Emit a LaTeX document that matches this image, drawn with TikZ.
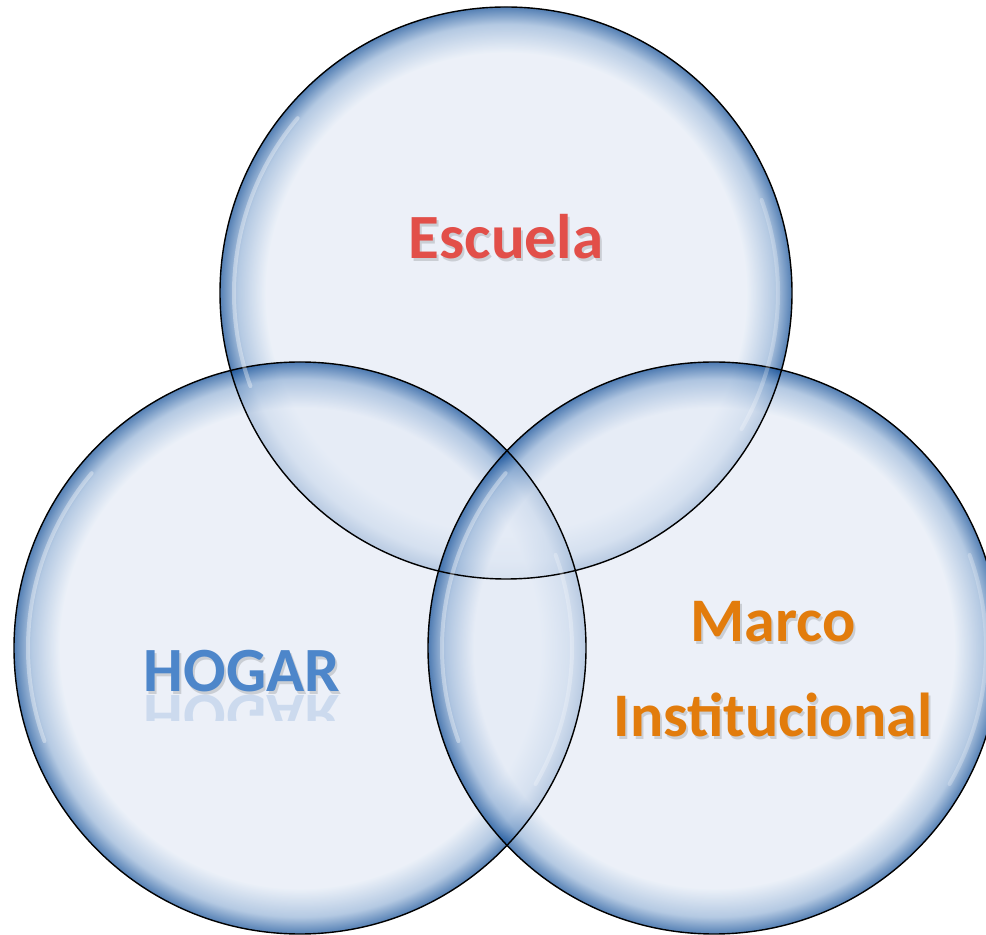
\documentclass[tikz,border=0pt]{standalone}
\usepackage{fontspec}
\setmainfont{Carlito}
\usetikzlibrary{positioning}
\definecolor{bubblein}{HTML}{E4EBF6}
\definecolor{bubblemid}{HTML}{95B3D7}
\definecolor{bubbleedge}{HTML}{0C4A95}
\definecolor{escuelared}{HTML}{E24F49}
\definecolor{hogarblue}{HTML}{4D86CA}
\definecolor{marcoorange}{HTML}{E27C0C}
\pgfdeclareradialshading{bubble}{\pgfpoint{0bp}{0bp}}{color(0bp)=(bubblein); color(21bp)=(bubblein); color(23.5bp)=(bubblemid); color(25bp)=(bubbleedge); color(50bp)=(bubbleedge)}
\tikzset{
  bubble/.style={circle,minimum size=572bp,inner sep=0pt,outer sep=0pt,shade,shading=bubble,fill opacity=0.7},
  outline/.style={black,line width=1.4bp},
  gloss/.style={white,line width=4bp,opacity=0.35,line cap=round},
  word/.style={font=\bfseries\fontsize{63bp}{70bp}\selectfont,anchor=base,inner sep=0pt},
  shadowword/.style={word,text=black,text opacity=0.14},
}
\begin{document}
\begin{tikzpicture}[>=latex,line join=bevel,]
\useasboundingbox [fill=white] (0bp,0bp) rectangle (986bp,935bp);
%%
\node (bubble_top) at (506bp,642bp) [bubble] {};
  \node (bubble_left) at (300bp,287bp) [bubble] {};
  \node (bubble_right) at (714bp,287bp) [bubble] {};
  \draw [outline] (bubble_top.center) circle [radius=286bp];
  \draw [outline] (bubble_left.center) circle [radius=286bp];
  \draw [outline] (bubble_right.center) circle [radius=286bp];
%
\foreach \b in {bubble_top,bubble_left,bubble_right} {
  \draw [gloss] ([shift={(140:272bp)}]\b.center) arc [start angle=140,end angle=200,radius=272bp];
  \draw [gloss,opacity=0.25] ([shift={(-30:272bp)}]\b.center) arc [start angle=-30,end angle=20,radius=272bp];
}
%
\node (escuela_shadow) at (508bp,673bp) [shadowword] {Escuela};
  \node (escuela) at (506bp,676bp) [word,text=escuelared] {Escuela};
\node (hogar_shadow) at (244bp,240bp) [shadowword] {HOGAR};
  \node (hogar) at (242bp,243bp) [word,text=hogarblue] {HOGAR};
\begin{scope}
  \clip (120bp,241bp) rectangle (370bp,214bp);
  \begin{scope}[shift={(242bp,239bp)},yscale=-1]
    \node (hogar_mirror) at (0bp,0bp) [word,text=hogarblue,text opacity=0.2,transform shape] {HOGAR};
  \end{scope}
\end{scope}
\node (marco_shadow) at (775bp,290bp) [shadowword,font=\bfseries\fontsize{62bp}{70bp}\selectfont] {Marco};
  \node (marco) at (773bp,293bp) [word,font=\bfseries\fontsize{62bp}{70bp}\selectfont,text=marcoorange] {Marco};
\node (institucional_shadow) at (775bp,195bp) [shadowword,font=\bfseries\fontsize{62bp}{70bp}\selectfont] {Institucional};
  \node (institucional) at (773bp,198bp) [word,font=\bfseries\fontsize{62bp}{70bp}\selectfont,text=marcoorange] {Institucional};
%
\end{tikzpicture}
\end{document}
